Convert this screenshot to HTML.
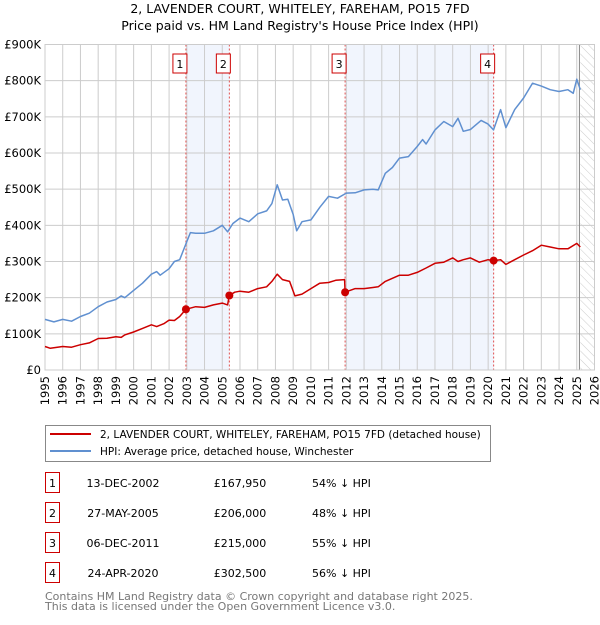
<!DOCTYPE html>
<html><head><meta charset="utf-8"><style>
body{margin:0;background:#fff;width:600px;height:620px;overflow:hidden}
svg text{font-family:"DejaVu Sans","Liberation Sans",sans-serif}
</style></head><body>
<svg id="c" width="600" height="620" xmlns="http://www.w3.org/2000/svg">
<defs><pattern id="hatch" width="6" height="6" patternUnits="userSpaceOnUse" patternTransform="rotate(-45)"><line x1="0" y1="0" x2="0" y2="6" stroke="#ccc" stroke-width="1"/></pattern></defs>
<text x="300" y="13" text-anchor="middle" font-size="12.5">2, LAVENDER COURT, WHITELEY, FAREHAM, PO15 7FD</text>
<text x="300" y="30" text-anchor="middle" font-size="12.5">Price paid vs. HM Land Registry's House Price Index (HPI)</text>
<g id="plot"></g>
<g>
<rect x="45.5" y="425.5" width="445" height="36" fill="#fff" stroke="#888"/>
<line x1="50" y1="434" x2="91" y2="434" stroke="#cc0000" stroke-width="2"/>
<text x="100" y="438" font-size="10.5">2, LAVENDER COURT, WHITELEY, FAREHAM, PO15 7FD (detached house)</text>
<line x1="50" y1="451" x2="91" y2="451" stroke="#6090d0" stroke-width="2"/>
<text x="100" y="455" font-size="10.5">HPI: Average price, detached house, Winchester</text>
</g>
<g id="table"></g>
<text x="45" y="600" font-size="11" fill="#777">Contains HM Land Registry data © Crown copyright and database right 2025.</text>
<text x="45" y="610" font-size="11" fill="#777">This data is licensed under the Open Government Licence v3.0.</text>
</svg>
<script>
const hpiYears=[1995,1995.5,1996,1996.5,1997,1997.5,1998,1998.5,1999,1999.3,1999.5,2000,2000.5,2001,2001.3,2001.5,2002,2002.3,2002.6,2003,2003.2,2003.5,2004,2004.5,2005,2005.3,2005.6,2006,2006.5,2007,2007.5,2007.8,2008.1,2008.4,2008.7,2009,2009.2,2009.5,2010,2010.5,2011,2011.5,2012,2012.5,2013,2013.5,2013.8,2014.2,2014.6,2015,2015.5,2016,2016.3,2016.5,2017,2017.5,2018,2018.3,2018.6,2019,2019.6,2020,2020.3,2020.7,2021,2021.5,2022,2022.5,2023,2023.5,2024,2024.5,2024.8,2025,2025.2];
const hpiValues=[140,133,140,135,148,157,175,188,195,205,200,220,240,265,272,262,280,300,305,355,380,378,378,385,400,382,405,420,410,432,440,460,512,470,472,430,385,410,415,450,480,475,489,490,498,500,498,544,560,586,590,618,637,625,664,687,673,696,660,665,690,680,664,720,670,720,752,793,785,775,770,775,765,804,775];
const ppYears=[1995,1995.3,1996,1996.5,1997,1997.5,1998,1998.5,1999,1999.3,1999.5,2000,2000.5,2001,2001.3,2001.7,2002,2002.3,2002.6,2002.95,2003.5,2004,2004.5,2005,2005.3,2005.4,2005.7,2006,2006.5,2007,2007.5,2007.8,2008.1,2008.4,2008.8,2009.1,2009.5,2010,2010.5,2011,2011.4,2011.9,2011.93,2012.5,2013,2013.5,2013.8,2014.2,2015,2015.5,2016,2016.5,2017,2017.5,2018,2018.3,2018.6,2019,2019.5,2020,2020.31,2020.7,2021,2021.5,2022,2022.5,2023,2023.5,2024,2024.5,2025,2025.2];
const ppValues=[65,60,65,63,70,75,87,88,92,90,97,105,115,125,120,128,138,137,148,167.95,175,173,180,185,180,206,215,218,215,225,230,245,265,250,245,205,210,225,240,242,248,250,215,225,225,228,230,245,262,262,270,282,295,298,310,300,305,310,298,305,302.5,305,292,305,318,330,345,340,335,335,350,340];
const saleYears=[2002.95,2005.4,2011.93,2020.31];
const saleLabels=["1","2","3","4"];
const saleDates=["13-DEC-2002","27-MAY-2005","06-DEC-2011","24-APR-2020"];
const salePrices=["£167,950","£206,000","£215,000","£302,500"];
const saleValues=[167.95,206,215,302.5];
const saleDiffs=["54% ↓ HPI","48% ↓ HPI","55% ↓ HPI","56% ↓ HPI"];
const yTicks=[0,100,200,300,400,500,600,700,800,900];
const yTickLabels=["£0","£100K","£200K","£300K","£400K","£500K","£600K","£700K","£800K","£900K"];
const xTicks=[1995,1996,1997,1998,1999,2000,2001,2002,2003,2004,2005,2006,2007,2008,2009,2010,2011,2012,2013,2014,2015,2016,2017,2018,2019,2020,2021,2022,2023,2024,2025,2026];

const X0=45,X1=594.5,Y0=370,Y1=44.5;
const xs=y=>X0+(y-1995)/31*(X1-X0);
const ys=v=>Y0-v/900*(Y0-Y1);
const NS="http://www.w3.org/2000/svg";
const plot=document.getElementById('plot');
function mk(tag,attrs,parent){const e=document.createElementNS(NS,tag);for(const k in attrs)e.setAttribute(k,attrs[k]);(parent||plot).appendChild(e);return e;}
for(let i=0;i<saleYears.length;i+=2){
 const r=mk('rect',{x:xs(saleYears[i]),y:Y1,width:xs(saleYears[i+1])-xs(saleYears[i]),height:Y0-Y1,fill:'#eef3fc',opacity:0.8});
 
 
}
const hz=mk('rect',{x:xs(2025.2),y:Y1,width:X1-xs(2025.2),height:Y0-Y1,fill:'url(#hatch)'});


yTicks.forEach((t,i)=>{
 const l=mk('line',{x1:X0,x2:X1,y1:ys(t),y2:ys(t),stroke:'#ccc','stroke-width':1});
 
 
 const tx=mk('text',{x:X0-4,y:ys(t)+4,'text-anchor':'end','font-size':11.5});
 tx.textContent=yTickLabels[i];
 
 
});
xTicks.forEach(t=>{
 const l=mk('line',{x1:xs(t),x2:xs(t),y1:Y1,y2:Y0,stroke:'#ccc','stroke-width':1});
 
 
 const tx=mk('text',{x:0,y:0,'text-anchor':'end','font-size':11.5,transform:`translate(${xs(t)+4},376) rotate(-90)`});
 tx.textContent=t;
 
 
});
const vl=mk('line',{x1:xs(2025.15),x2:xs(2025.15),y1:Y1,y2:Y0,stroke:'#888','stroke-width':1});


saleYears.forEach((s,i)=>{
 const l=mk('line',{x1:xs(s),x2:xs(s),y1:Y1,y2:Y0,stroke:'#e05050','stroke-width':1,'stroke-dasharray':'2,2'});
 
 
 const b=mk('rect',{x:xs(s)-13,y:54,width:14,height:19,fill:'#fff',stroke:'#cc0000'});
 
 
 const t=mk('text',{x:xs(s)-6,y:68,'text-anchor':'middle','font-size':11});
 t.textContent=saleLabels[i];
 
 
});
const border=mk('rect',{x:X0,y:Y1,width:X1-X0,height:Y0-Y1,fill:'none',stroke:'#ccc'});


function path(xa,va,color,name){
 const d=xa.map((x,i)=>(i?'L':'M')+xs(x).toFixed(1)+','+ys(va[i]).toFixed(1)).join('');
 const p=mk('path',{d:d,fill:'none',stroke:color,'stroke-width':1.5,'stroke-linejoin':'round'});
 
 
}
path(hpiYears,hpiValues,'#6090d0','hpi-line');
path(ppYears,ppValues,'#cc0000','price-paid-line');
saleYears.forEach((s,i)=>{
 const c=mk('circle',{cx:xs(s),cy:ys(saleValues[i]),r:4,fill:'#cc0000'});
 
 
});
const tb=document.getElementById('table');
saleLabels.forEach((lab,i)=>{
 const y=483+i*30;
 const b=mk('rect',{x:45.5,y:y-10.5,width:14,height:20,fill:'#fff',stroke:'#cc0000'},tb);
 
 
 const cells=[[52.5,lab,'middle','row-number'],[123,saleDates[i],'middle','row-date'],[240,salePrices[i],'middle','row-price'],[312,saleDiffs[i],'start','row-hpi-diff']];
 cells.forEach(c=>{
  const t=mk('text',{x:c[0],y:y+4,'text-anchor':c[2],'font-size':11},tb);
  t.textContent=c[1];
  
  
 });
});
</script>
</body></html>
